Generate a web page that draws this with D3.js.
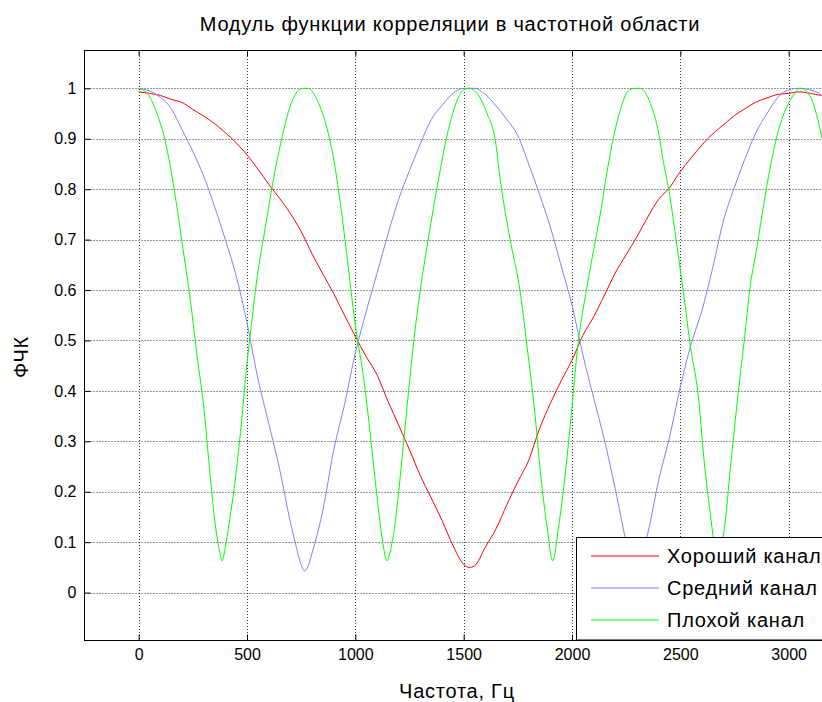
<!DOCTYPE html>
<html>
<head>
<meta charset="utf-8">
<script src="https://cdn.jsdelivr.net/npm/d3@7"></script>
<style>
  body { margin: 0; background: #fff; }
  svg { font-family: "Liberation Sans", Arial, sans-serif; }
  .axis text { font-size: 16px; fill: #000; }
  .axis line { stroke: #000; }
  .axis path { display: none; }
  .grid line { stroke: #000; stroke-dasharray: 1,2; stroke-opacity: 0.8; }
  .label { font-size: 20px; letter-spacing: 0.75px; fill: #000; }
</style>
</head>
<body>
<div id="vis"></div>
<script>
var freqRed = [0,50,100,150,200,250,300,350,400,450,500,550,600,650,700,750,800,850,900,950,
  1000,1050,1100,1150,1200,1250,1300,1350,1400,1450,1500,1525,1550,1600,1650,1700,1750,1800,1850,1900,1950,
  2000,2050,2100,2150,2200,2250,2300,2350,2400,2450,2500,2550,2600,2650,2700,2750,2800,2850,2900,2950,
  3000,3050,3100,3150,3200];
var good = [0.993,0.99,0.986,0.978,0.972,0.958,0.945,0.93,0.912,0.892,0.868,0.84,0.81,0.782,0.752,0.716,0.672,0.632,0.593,0.55,
  0.508,0.468,0.432,0.38,0.332,0.283,0.232,0.188,0.143,0.094,0.056,0.05,0.053,0.09,0.127,0.175,0.22,0.262,0.325,0.375,0.42,
  0.461,0.51,0.547,0.59,0.634,0.67,0.706,0.745,0.78,0.803,0.835,0.862,0.888,0.91,0.928,0.946,0.96,0.973,0.981,0.988,
  0.99,0.993,0.99,0.986,0.985];

var freqBlue = [0,50,100,150,200,250,300,350,400,450,500,550,600,650,700,725,750,765,780,800,850,900,950,
  1000,1050,1100,1150,1200,1250,1300,1350,1400,1450,1500,1550,1600,1650,1700,1750,1800,1850,1900,1950,
  2000,2050,2100,2150,2200,2250,2270,2290,2310,2350,2400,2450,2500,2550,2600,2650,2700,2750,2800,2850,2900,2950,
  3000,3050,3100,3150,3200];
var medium = [1.0,0.995,0.982,0.96,0.918,0.875,0.826,0.766,0.70,0.628,0.535,0.425,0.336,0.246,0.14,0.095,0.055,0.043,0.05,0.078,0.163,0.282,0.373,
  0.475,0.557,0.633,0.71,0.78,0.837,0.89,0.938,0.966,0.99,1.0,1.0,0.988,0.965,0.938,0.906,0.85,0.79,0.725,0.648,
  0.57,0.472,0.386,0.302,0.205,0.1,0.065,0.045,0.06,0.118,0.223,0.308,0.408,0.493,0.56,0.645,0.739,0.804,0.862,0.913,0.95,0.982,
  0.997,1.0,0.997,0.987,0.96];

var freqGreen = [0,40,80,120,160,200,240,270,300,330,355,370,385,400,415,440,470,500,520,550,585,620,660,700,740,762,
  785,820,860,900,930,960,1000,1040,1070,1100,1123,1146,1165,1180,1200,1230,1270,1300,1340,1380,1420,1460,1500,1525,
  1562,1608,1646,1669,1715,1762,1793,1830,1854,1885,1911,1938,1969,2000,2023,2069,2100,2131,2160,2192,2223,2260,2290,
  2315,2362,2400,2423,2446,2485,2515,2546,2585,2608,2638,2655,2670,2685,2697,2739,2777,2795,2820,2854,2885,2915,2962,3008,3054,3100,3146,3180,3200];
var bad = [1.0,0.99,0.955,0.9,0.81,0.695,0.575,0.468,0.37,0.232,0.13,0.09,0.063,0.09,0.13,0.205,0.318,0.455,0.53,0.635,0.725,0.815,0.9,0.965,0.997,1.0,
  1.0,0.98,0.935,0.86,0.775,0.672,0.53,0.42,0.31,0.19,0.11,0.063,0.09,0.125,0.2,0.33,0.5,0.6,0.71,0.81,0.9,0.965,0.997,1.0,
  0.99,0.95,0.897,0.818,0.699,0.593,0.487,0.35,0.239,0.13,0.063,0.13,0.236,0.368,0.475,0.606,0.68,0.752,0.83,0.904,0.957,0.995,1.0,
  1.0,0.97,0.911,0.851,0.8,0.686,0.593,0.49,0.382,0.269,0.157,0.1,0.063,0.09,0.11,0.282,0.434,0.5,0.6,0.686,0.77,0.844,0.93,0.977,1.0,0.983,0.917,0.84,0.79];

var seriesNames = ["Хороший канал", "Средний канал", "Плохой канал"];
var seriesColors = ["#ff0000", "#7f7fff", "#00ff00"];
var xTicks = [0, 500, 1000, 1500, 2000, 2500, 3000];
var yTicks = [0, 0.1, 0.2, 0.3, 0.4, 0.5, 0.6, 0.7, 0.8, 0.9, 1];
var yTickLabels = ["0", "0.1", "0.2", "0.3", "0.4", "0.5", "0.6", "0.7", "0.8", "0.9", "1"];

var series = [
  {name: seriesNames[0], color: seriesColors[0], values: freqRed.map(function(f, i) { return [f, good[i]]; })},
  {name: seriesNames[1], color: seriesColors[1], values: freqBlue.map(function(f, i) { return [f, medium[i]]; })},
  {name: seriesNames[2], color: seriesColors[2], values: freqGreen.map(function(f, i) { return [f, bad[i]]; })}
];

var W = 822, H = 702;
var plotLeft = 84.5, plotRight = 832, plotTop = 50, plotBottom = 640.5;

var svg = d3.select("div#vis").append("svg")
  .attr("width", W)
  .attr("height", H);

var x = d3.scaleLinear().domain([-250, 3200]).range([plotLeft, plotRight]);
var y = d3.scaleLinear().domain([-0.095, 1.076]).range([plotBottom, plotTop]);

svg.append("defs").append("clipPath").attr("id", "plotclip")
  .append("rect")
  .attr("x", plotLeft).attr("y", plotTop)
  .attr("width", plotRight - plotLeft).attr("height", plotBottom - plotTop);

// dotted grid
svg.append("g").attr("class", "grid")
  .selectAll("line").data(xTicks).enter().append("line")
  .attr("x1", function(d) { return Math.round(x(d)) + 0.5; })
  .attr("x2", function(d) { return Math.round(x(d)) + 0.5; })
  .attr("y1", plotTop).attr("y2", plotBottom);

svg.append("g").attr("class", "grid")
  .selectAll("line").data(yTicks).enter().append("line")
  .attr("y1", function(d) { return Math.round(y(d)) + 0.5; })
  .attr("y2", function(d) { return Math.round(y(d)) + 0.5; })
  .attr("x1", plotLeft).attr("x2", plotRight);

var line = d3.line()
  .curve(d3.curveMonotoneX)
  .x(function(d) { return x(d[0]); })
  .y(function(d) { return y(d[1]); });

svg.append("g").attr("clip-path", "url(#plotclip)")
  .selectAll("path").data(series).enter().append("path")
  .attr("fill", "none")
  .attr("stroke", function(d) { return d.color; })
  .attr("stroke-width", 1)
  .attr("d", function(d) { return line(d.values); });

// axes, ticks pointing inward like matlab
svg.append("g").attr("class", "axis")
  .attr("transform", "translate(" + plotLeft + ",0)")
  .call(d3.axisLeft(y).tickValues(yTicks).tickSize(-6).tickPadding(8)
    .tickFormat(function(d, i) { return yTickLabels[i]; }));

svg.append("g").attr("class", "axis")
  .attr("transform", "translate(0," + plotBottom + ")")
  .call(d3.axisBottom(x).tickValues(xTicks).tickSize(-6).tickPadding(8).tickFormat(d3.format("d")));

svg.append("g").attr("class", "axis")
  .attr("transform", "translate(0," + plotTop + ")")
  .call(d3.axisTop(x).tickValues(xTicks).tickSize(-6).tickFormat(""));

svg.append("rect")
  .attr("x", plotLeft).attr("y", plotTop + 0.5)
  .attr("width", plotRight - plotLeft).attr("height", plotBottom - plotTop - 0.5)
  .attr("fill", "none").attr("stroke", "#000");

svg.append("text").attr("class", "label")
  .attr("x", 450).attr("y", 31)
  .attr("text-anchor", "middle")
  .text("Модуль функции корреляции в частотной области");

svg.append("text").attr("class", "label")
  .attr("x", 457).attr("y", 698)
  .attr("text-anchor", "middle")
  .text("Частота, Гц");

svg.append("text").attr("class", "label")
  .attr("transform", "translate(28,357) rotate(-90)")
  .attr("text-anchor", "middle")
  .text("ФЧК");

// legend
var legend = svg.append("g");
legend.append("rect")
  .attr("x", 576.5).attr("y", 537.5)
  .attr("width", 260).attr("height", 102.5)
  .attr("fill", "#fff").attr("stroke", "#000");

var item = legend.selectAll("g").data(series).enter().append("g")
  .attr("transform", function(d, i) { return "translate(0," + (556 + i * 32) + ")"; });

item.append("line")
  .attr("x1", 591).attr("x2", 659)
  .attr("stroke", function(d) { return d.color; });

item.append("text").attr("class", "label")
  .attr("x", 667).attr("y", 0)
  .attr("dy", "0.35em")
  .text(function(d) { return d.name; });
</script>
</body>
</html>
